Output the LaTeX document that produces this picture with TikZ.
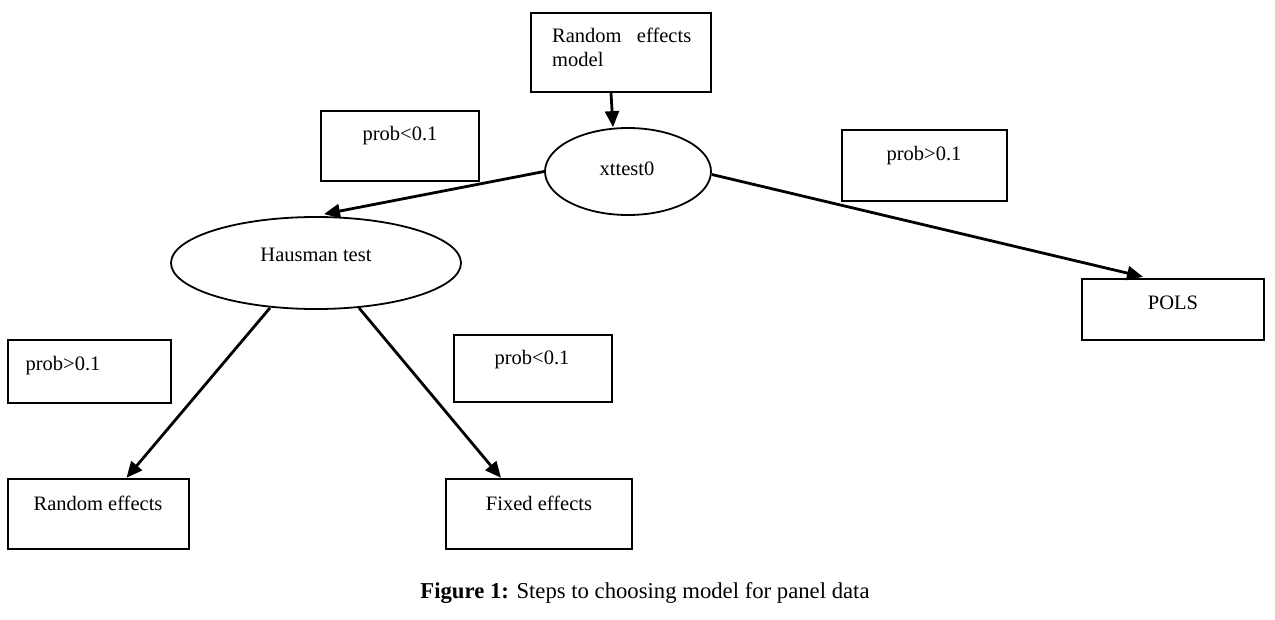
\documentclass[tikz,border=0pt]{standalone}
\usepackage{fontspec}
\setmainfont{Liberation Serif}
\usetikzlibrary{shapes.geometric,arrows.meta}
\begin{document}
\begin{tikzpicture}[x=1pt,y=-1pt,
  box/.style={draw,line width=2.4pt,inner sep=0pt,rectangle},
  oval/.style={draw,ellipse,line width=1.8pt,inner sep=0pt},
  lbl/.style={font=\fontsize{20.5}{24}\selectfont,inner sep=0pt},
  arr/.style={line width=2.8pt,-{Triangle[length=16pt,width=14pt]}}]
\useasboundingbox (0,0) rectangle (1275,619);
% boxes and ellipses
\node[box,minimum width=180pt,minimum height=79pt] (rem) at (621,52.5) {};
\node[oval,minimum width=166pt,minimum height=87pt] (xt) at (628,171.5) {};
\node[box,minimum width=158pt,minimum height=70pt] (p1) at (400,146) {};
\node[box,minimum width=165pt,minimum height=71pt] (p2) at (924.5,165.5) {};
\node[oval,minimum width=290pt,minimum height=92pt] (haus) at (316,263) {};
\node[box,minimum width=182pt,minimum height=61pt] (pols) at (1173,309.5) {};
\node[box,minimum width=163pt,minimum height=63pt] (p3) at (89.5,371.5) {};
\node[box,minimum width=158pt,minimum height=67pt] (p4) at (533,368.5) {};
\node[box,minimum width=181pt,minimum height=70pt] (re) at (98.5,514) {};
\node[box,minimum width=186pt,minimum height=70pt] (fe) at (539,514) {};
% texts
\node[lbl,text width=139pt,align=left,anchor=north west] (remt) at (552,28) {Random\hfill effects\\model};
\node[lbl] (xtt) at (627,169) {xttest0};
\node[lbl] (p1t) at (400,136) {prob<0.1};
\node[lbl] (p2t) at (924,156) {prob>0.1};
\node[lbl] (haust) at (316,255) {Hausman test};
\node[lbl] (polst) at (1173,303) {POLS};
\node[lbl] (p3t) at (63,366) {prob>0.1};
\node[lbl] (p4t) at (532,360) {prob<0.1};
\node[lbl] (ret) at (98,503) {Random effects};
\node[lbl] (fet) at (539,503) {Fixed effects};
\node[font=\fontsize{22.7}{26}\selectfont,inner sep=0pt] (cap) at (645,593) {\textbf{Figure 1:} Steps to choosing model for panel data};
% arrows
\draw[arr] ([xshift=-10pt]rem.south) -- ([xshift=-15pt]xt.north);
\draw[arr] (xt.west) -- ([xshift=8pt,yshift=2pt]haus.north);
\draw[arr] ([yshift=-3pt]xt.east) -- ([xshift=-30pt,yshift=1pt]pols.north);
\draw[arr] ([xshift=-46pt,yshift=2pt]haus.south) -- ([xshift=28pt]re.north);
\draw[arr] ([xshift=43pt,yshift=2pt]haus.south) -- ([xshift=-38pt]fe.north);
\end{tikzpicture}
\end{document}
